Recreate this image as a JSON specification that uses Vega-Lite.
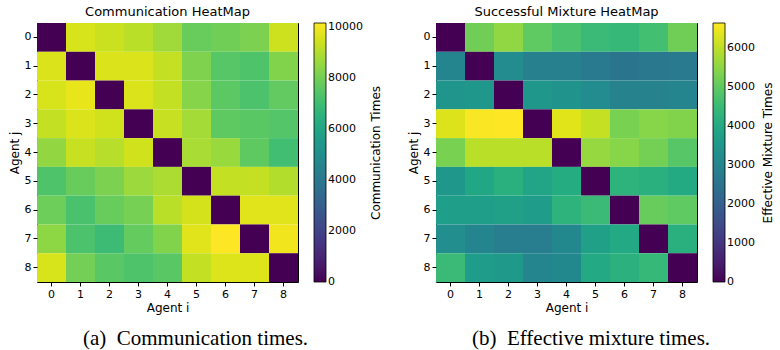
{
  "$schema": "https://vega.github.io/schema/vega-lite/v6.json",
  "padding": {"left": 7, "top": 5, "right": 2, "bottom": 2},
  "background": "white",
  "spacing": 22,
  "resolve": {"scale": {"color": "independent"}, "legend": {"color": "independent"}},
  "config": {
    "font": "DejaVu Sans",
    "view": {"stroke": "black", "strokeWidth": 1},
    "axis": {"labelFontSize": 11, "labelColor": "black", "tickColor": "black", "tickSize": 4, "domain": false, "grid": false, "titleFontSize": 12, "titleFontWeight": "normal", "titleColor": "black", "labelAngle": 0, "labelPadding": 2, "titlePadding": 3},
    "legend": {"gradientLength": 259, "gradientThickness": 12, "gradientStrokeColor": "black", "gradientStrokeWidth": 0.8, "labelFontSize": 11, "labelColor": "black", "labelOffset": 5, "titleFontSize": 12, "titleFontWeight": "normal", "titleColor": "black", "titleOrient": "right", "titleAnchor": "middle", "offset": 16, "titlePadding": 8, "labelOverlap": false, "titleLimit": 400},
    "title": {"fontSize": 13, "fontWeight": "normal", "color": "black", "offset": 4}
  },
  "datasets": {
    "comm": [
      {"j":0,"i":0,"v":0},{"j":0,"i":1,"v":9550},{"j":0,"i":2,"v":9350},{"j":0,"i":3,"v":9100},{"j":0,"i":4,"v":8700},{"j":0,"i":5,"v":7800},{"j":0,"i":6,"v":7950},{"j":0,"i":7,"v":8150},{"j":0,"i":8,"v":9400},
      {"j":1,"i":0,"v":9600},{"j":1,"i":1,"v":0},{"j":1,"i":2,"v":9600},{"j":1,"i":3,"v":9600},{"j":1,"i":4,"v":9250},{"j":1,"i":5,"v":8200},{"j":1,"i":6,"v":7500},{"j":1,"i":7,"v":7350},{"j":1,"i":8,"v":8250},
      {"j":2,"i":0,"v":9550},{"j":2,"i":1,"v":9800},{"j":2,"i":2,"v":0},{"j":2,"i":3,"v":9600},{"j":2,"i":4,"v":9250},{"j":2,"i":5,"v":8300},{"j":2,"i":6,"v":7600},{"j":2,"i":7,"v":7300},{"j":2,"i":8,"v":7700},
      {"j":3,"i":0,"v":9250},{"j":3,"i":1,"v":9600},{"j":3,"i":2,"v":9450},{"j":3,"i":3,"v":0},{"j":3,"i":4,"v":9300},{"j":3,"i":5,"v":8800},{"j":3,"i":6,"v":7650},{"j":3,"i":7,"v":7550},{"j":3,"i":8,"v":7450},
      {"j":4,"i":0,"v":8500},{"j":4,"i":1,"v":9300},{"j":4,"i":2,"v":9050},{"j":4,"i":3,"v":9450},{"j":4,"i":4,"v":0},{"j":4,"i":5,"v":8850},{"j":4,"i":6,"v":8600},{"j":4,"i":7,"v":7650},{"j":4,"i":8,"v":7050},
      {"j":5,"i":0,"v":7350},{"j":5,"i":1,"v":7800},{"j":5,"i":2,"v":8150},{"j":5,"i":3,"v":8650},{"j":5,"i":4,"v":8900},{"j":5,"i":5,"v":0},{"j":5,"i":6,"v":9250},{"j":5,"i":7,"v":9250},{"j":5,"i":8,"v":9000},
      {"j":6,"i":0,"v":7900},{"j":6,"i":1,"v":7250},{"j":6,"i":2,"v":7800},{"j":6,"i":3,"v":8050},{"j":6,"i":4,"v":9100},{"j":6,"i":5,"v":9500},{"j":6,"i":6,"v":0},{"j":6,"i":7,"v":9700},{"j":6,"i":8,"v":9700},
      {"j":7,"i":0,"v":8450},{"j":7,"i":1,"v":7300},{"j":7,"i":2,"v":6950},{"j":7,"i":3,"v":7750},{"j":7,"i":4,"v":8250},{"j":7,"i":5,"v":9700},{"j":7,"i":6,"v":10150},{"j":7,"i":7,"v":0},{"j":7,"i":8,"v":9950},
      {"j":8,"i":0,"v":9550},{"j":8,"i":1,"v":8000},{"j":8,"i":2,"v":7550},{"j":8,"i":3,"v":7350},{"j":8,"i":4,"v":7550},{"j":8,"i":5,"v":9250},{"j":8,"i":6,"v":9650},{"j":8,"i":7,"v":9650},{"j":8,"i":8,"v":0}
    ],
    "mix": [
      {"j":0,"i":0,"v":0},{"j":0,"i":1,"v":5200},{"j":0,"i":2,"v":5550},{"j":0,"i":3,"v":5000},{"j":0,"i":4,"v":4750},{"j":0,"i":5,"v":4500},{"j":0,"i":6,"v":4450},{"j":0,"i":7,"v":4650},{"j":0,"i":8,"v":5200},
      {"j":1,"i":0,"v":3000},{"j":1,"i":1,"v":0},{"j":1,"i":2,"v":3200},{"j":1,"i":3,"v":2850},{"j":1,"i":4,"v":2850},{"j":1,"i":5,"v":2700},{"j":1,"i":6,"v":2550},{"j":1,"i":7,"v":2650},{"j":1,"i":8,"v":2700},
      {"j":2,"i":0,"v":3450},{"j":2,"i":1,"v":3550},{"j":2,"i":2,"v":0},{"j":2,"i":3,"v":3500},{"j":2,"i":4,"v":3400},{"j":2,"i":5,"v":3200},{"j":2,"i":6,"v":2950},{"j":2,"i":7,"v":2950},{"j":2,"i":8,"v":3000},
      {"j":3,"i":0,"v":6300},{"j":3,"i":1,"v":6600},{"j":3,"i":2,"v":6640},{"j":3,"i":3,"v":0},{"j":3,"i":4,"v":6350},{"j":3,"i":5,"v":6050},{"j":3,"i":6,"v":5300},{"j":3,"i":7,"v":5450},{"j":3,"i":8,"v":5400},
      {"j":4,"i":0,"v":5300},{"j":4,"i":1,"v":5950},{"j":4,"i":2,"v":5950},{"j":4,"i":3,"v":5950},{"j":4,"i":4,"v":0},{"j":4,"i":5,"v":5600},{"j":4,"i":6,"v":5450},{"j":4,"i":7,"v":5250},{"j":4,"i":8,"v":4900},
      {"j":5,"i":0,"v":3500},{"j":5,"i":1,"v":3950},{"j":5,"i":2,"v":4200},{"j":5,"i":3,"v":3900},{"j":5,"i":4,"v":4100},{"j":5,"i":5,"v":0},{"j":5,"i":6,"v":4300},{"j":5,"i":7,"v":4200},{"j":5,"i":8,"v":4050},
      {"j":6,"i":0,"v":3700},{"j":6,"i":1,"v":3700},{"j":6,"i":2,"v":3800},{"j":6,"i":3,"v":3650},{"j":6,"i":4,"v":4300},{"j":6,"i":5,"v":4500},{"j":6,"i":6,"v":0},{"j":6,"i":7,"v":5100},{"j":6,"i":8,"v":5000},
      {"j":7,"i":0,"v":3250},{"j":7,"i":1,"v":3000},{"j":7,"i":2,"v":2800},{"j":7,"i":3,"v":2800},{"j":7,"i":4,"v":3100},{"j":7,"i":5,"v":3800},{"j":7,"i":6,"v":4000},{"j":7,"i":7,"v":0},{"j":7,"i":8,"v":4200},
      {"j":8,"i":0,"v":4500},{"j":8,"i":1,"v":3650},{"j":8,"i":2,"v":3600},{"j":8,"i":3,"v":3000},{"j":8,"i":4,"v":3100},{"j":8,"i":5,"v":4000},{"j":8,"i":6,"v":4250},{"j":8,"i":7,"v":4450},{"j":8,"i":8,"v":0}
    ]
  },
  "hconcat": [
    {
      "title": {"text": "(a)\u2002Communication times.", "orient": "bottom", "font": "Liberation Serif", "fontSize": 21, "fontWeight": "normal", "offset": 14, "anchor": "middle"},
      "resolve": {"scale": {"color": "independent"}, "legend": {"color": "independent"}},
      "vconcat": [
        {
          "title": {"text": "Communication HeatMap", "frame": "group"},
          "width": 261,
          "height": 259,
          "data": {"name": "comm"},
          "mark": {"type": "rect"},
          "encoding": {
            "x": {"field": "i", "type": "ordinal", "title": "Agent i", "scale": {"paddingInner": 0, "paddingOuter": 0}},
            "y": {"field": "j", "type": "ordinal", "title": "Agent j", "scale": {"paddingInner": 0, "paddingOuter": 0}},
            "color": {"field": "v", "type": "quantitative", "scale": {"scheme": "viridis", "domain": [0, 10150]}, "legend": {"title": "Communication Times", "gradientLength": 259, "format": "d", "values": [0, 2000, 4000, 6000, 8000, 10000], "encode": {"title": {"update": {"angle": {"value": 270}, "baseline": {"value": "top"}}}, "labels": {"update": {"baseline": {"value": "middle"}}}}}}
          }
        }
      ]
    },
    {
      "title": {"text": "(b)\u2002Effective mixture times.", "orient": "bottom", "font": "Liberation Serif", "fontSize": 21, "fontWeight": "normal", "offset": 14, "anchor": "middle"},
      "resolve": {"scale": {"color": "independent"}, "legend": {"color": "independent"}},
      "vconcat": [
        {
          "title": {"text": "Successful Mixture HeatMap", "frame": "group"},
          "width": 261,
          "height": 259,
          "data": {"name": "mix"},
          "mark": {"type": "rect"},
          "encoding": {
            "x": {"field": "i", "type": "ordinal", "title": "Agent i", "scale": {"paddingInner": 0, "paddingOuter": 0}},
            "y": {"field": "j", "type": "ordinal", "title": "Agent j", "scale": {"paddingInner": 0, "paddingOuter": 0}},
            "color": {"field": "v", "type": "quantitative", "scale": {"scheme": "viridis", "domain": [0, 6640]}, "legend": {"title": "Effective Mixture Times", "gradientLength": 259, "format": "d", "values": [0, 1000, 2000, 3000, 4000, 5000, 6000], "encode": {"title": {"update": {"angle": {"value": 270}, "baseline": {"value": "top"}}}, "labels": {"update": {"baseline": {"value": "middle"}}}}}}
          }
        }
      ]
    }
  ]
}
